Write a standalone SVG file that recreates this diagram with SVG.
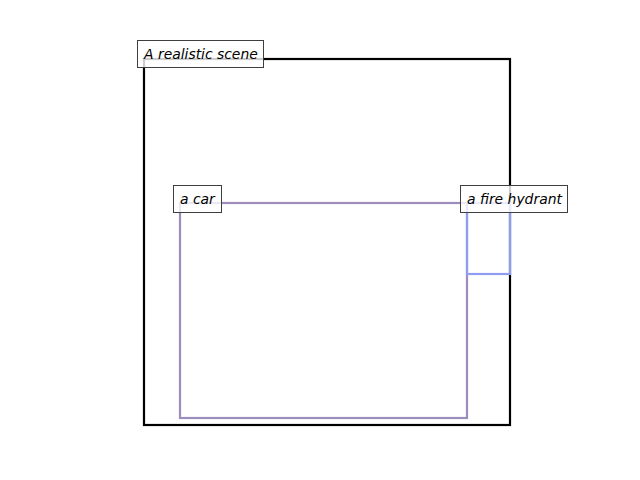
<svg xmlns="http://www.w3.org/2000/svg" width="640" height="480" viewBox="0 0 640 480">
<style>
.lbl rect{fill:#ffffff;fill-opacity:0.8;stroke:#3f3f3f;stroke-width:1}
.lbl text{font-family:"DejaVu Sans",sans-serif;font-style:italic;font-size:13.9px;fill:#000}
.box{fill:none;stroke-width:2.2}
</style>
<rect width="640" height="480" fill="#ffffff"/>
<g id="connectors"></g>
<g id="scene">
<rect class="box" x="144" y="59" width="366" height="366" stroke="#000000"/>
</g>
<g id="car">
<rect class="box" x="180" y="203" width="287" height="215" stroke="#9d8dbd"/>
</g>
<g id="hydrant">
<rect class="box" x="467" y="203" width="43" height="71" stroke="#8e9df0"/>
</g>
<g id="label-scene" class="lbl">
<rect x="137.5" y="40.5" width="126" height="27"/>
<text x="144" y="58.5">A realistic scene</text>
</g>
<g id="label-car" class="lbl">
<rect x="173.5" y="185.5" width="48" height="27"/>
<text x="180" y="203.5">a car</text>
</g>
<g id="label-hydrant" class="lbl">
<rect x="460.5" y="185.5" width="107" height="27"/>
<text x="467" y="203.5">a fire hydrant</text>
</g>
</svg>
